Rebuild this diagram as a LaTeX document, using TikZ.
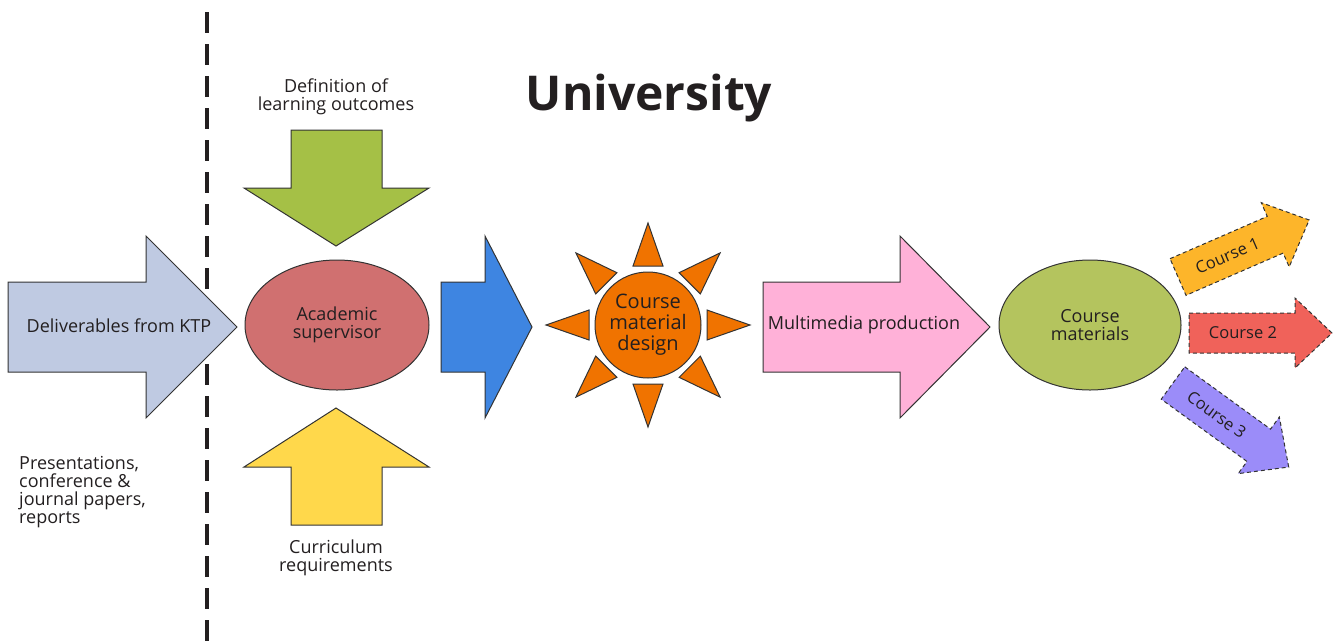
\documentclass[tikz,border=0pt]{standalone}
\usepackage{fontspec}
\setmainfont{Open Sans}
\usetikzlibrary{shapes.geometric}

\definecolor{textgrey}{HTML}{231F20}
\definecolor{ktpblue}{HTML}{BFCAE2}
\definecolor{outcomegreen}{HTML}{A5C046}
\definecolor{supred}{HTML}{D07070}
\definecolor{curricyellow}{HTML}{FFD84B}
\definecolor{flowblue}{HTML}{3E85E1}
\definecolor{sunorange}{HTML}{F07300}
\definecolor{mediapink}{HTML}{FFB1D8}
\definecolor{materialolive}{HTML}{B4C45E}
\definecolor{courseone}{HTML}{FDB52A}
\definecolor{coursetwo}{HTML}{F0625A}
\definecolor{coursethree}{HTML}{9B8CF9}

\begin{document}
\begin{tikzpicture}[x=1pt,y=-1pt,
        bigarrow/.style={draw=black!80, line width=1pt},
        txt/.style={text=textgrey, font=\fontsize{18}{18}\selectfont, align=center, inner sep=0pt},
        ray/.style={draw=black!80, line width=1pt, fill=sunorange},
        coursearrow/.style={draw=black!80, line width=1pt, dash pattern=on 4pt off 3pt},
        coursetxt/.style={text=textgrey, font=\fontsize{16.5}{16.5}\selectfont, inner sep=0pt, transform shape}]
    \useasboundingbox (0,0) rectangle (1335,641);
    % KTP side | university side
    \draw[line width=4.5pt, dash pattern=on 21pt off 11pt, color=textgrey] (207,12) -- (207,641);
    \node[text=textgrey, font=\fontsize{48}{48}\selectfont\bfseries] (uni) at (649,98) {University};

    % deliverables from KTP
    \draw[bigarrow, fill=ktpblue] (8,282) -- (146,282) -- (146,236) -- (237,327) -- (146,418) -- (146,372) -- (8,372) -- cycle;
    \node[txt] (ktp) at (119,326) {Deliverables from KTP};
    \node[txt, align=left, anchor=west] (papers) at (19,492) {Presentations,\\conference \&\\journal papers,\\reports};

    % inputs to the supervisor
    \draw[bigarrow, fill=outcomegreen] (291,130) -- (382,130) -- (382,188) -- (429,188) -- (336,246) -- (244,188) -- (291,188) -- cycle;
    \node[txt] (outcomes) at (336,97) {Definition of\\learning outcomes};
    \draw[bigarrow, fill=curricyellow] (291,525) -- (382,525) -- (382,467) -- (429,467) -- (336,408) -- (244,467) -- (291,467) -- cycle;
    \node[txt] (curric) at (336,558) {Curriculum\\requirements};
    \node[ellipse, draw=black!80, line width=1pt, fill=supred, minimum width=184pt, minimum height=130pt, txt] (acad) at (337,325) {Academic\\supervisor};

    \draw[bigarrow, fill=flowblue] (441,282) -- (485,282) -- (485,236) -- (532,327) -- (485,418) -- (485,372) -- (441,372) -- cycle;

    % sun
    \foreach \a in {0,45,...,315}
        \draw[ray, shift={(648,325)}, rotate=\a] (59,-15) -- (102,0) -- (59,15) -- cycle;
    \node[circle, draw=black!80, line width=1pt, fill=sunorange, minimum size=106pt, txt, font=\fontsize{20}{21}\selectfont] (sun) at (648,325) {Course\\material\\design};

    % production
    \draw[bigarrow, fill=mediapink] (763,282) -- (900,282) -- (900,236) -- (990,327) -- (900,418) -- (900,372) -- (763,372) -- cycle;
    \node[txt] (media) at (864,325) {Multimedia production};
    \node[ellipse, draw=black!80, line width=1pt, fill=materialolive, minimum width=182pt, minimum height=130pt, txt] (materials) at (1090,325) {Course\\materials};

    % courses
    \begin{scope}[shift={(1178,277)}, rotate=23.5]
        \draw[coursearrow, fill=courseone] (0,-20) -- (106,-20) -- (106,-35) -- (143,0) -- (106,35) -- (106,20) -- (0,20) -- cycle;
        \node[coursetxt] (course1) at (54,0) {Course 1};
    \end{scope}
    \begin{scope}[shift={(1189,333)}]
        \draw[coursearrow, fill=coursetwo] (0,-20) -- (106,-20) -- (106,-35) -- (143,0) -- (106,35) -- (106,20) -- (0,20) -- cycle;
        \node[coursetxt] (course2) at (54,0) {Course 2};
    \end{scope}
    \begin{scope}[shift={(1173,383)}, rotate=-36]
        \draw[coursearrow, fill=coursethree] (0,-20) -- (106,-20) -- (106,-35) -- (143,0) -- (106,35) -- (106,20) -- (0,20) -- cycle;
        \node[coursetxt] (course3) at (54,0) {Course 3};
    \end{scope}
\end{tikzpicture}
\end{document}
